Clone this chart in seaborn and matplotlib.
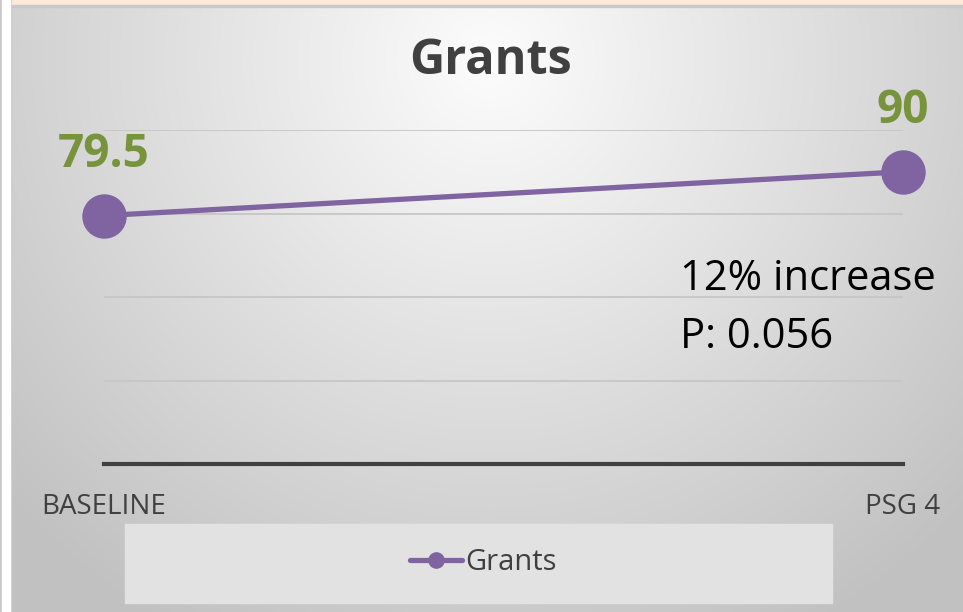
import numpy as np
import pandas as pd
import matplotlib.pyplot as plt
import seaborn as sns
from matplotlib.patches import Rectangle
from matplotlib.lines import Line2D

stages = ['BASELINE', 'PSG 4']
grants = [79.5, 90]
value_labels = ['79.5', '90']
note_lines = ['12% increase', 'P: 0.056']

df = pd.DataFrame({'stage': stages, 'grants': grants})

sns.set_theme(style='white')
plt.rcParams['font.family'] = ['Open Sans', 'DejaVu Sans']

fig = plt.figure(figsize=(9.63, 6.12), dpi=100)
W, H = 963, 612

# background: page strip + radial gray gradient of the chart area
bg = fig.add_axes([0, 0, 1, 1])
bg.set_xlim(0, W)
bg.set_ylim(H, 0)
bg.axis('off')
yy, xx = np.mgrid[0:H, 0:W]
r = np.sqrt(((xx - 490) / 620.0) ** 2 + ((yy - 60) / 620.0) ** 2)
shade = np.clip(0.99 - 0.22 * r, 0.76, 0.99)
bg.imshow(np.dstack([shade] * 3), extent=(0, W, H, 0), zorder=0)
bg.add_patch(Rectangle((0, 0), 11, H, color='#c8c8c8', zorder=1))
bg.add_patch(Rectangle((2, 0), 8, H, color='white', zorder=1))
bg.add_patch(Rectangle((12, 0), W - 12, 5, color='#fde9db', zorder=1))
bg.add_patch(Rectangle((12, 5), W - 12, 2, color='#c9c9c9', zorder=1))
# legend box
bg.add_patch(Rectangle((125, 524), 707, 79, color='#e2e2e2', zorder=1))

# plot area
x0, x1, ytop, ybot = 104, 903, 130, 464
ax = fig.add_axes([x0 / W, 1 - ybot / H, (x1 - x0) / W, (ybot - ytop) / H])
ax.patch.set_alpha(0)
sns.lineplot(data=df, x='stage', y='grants', ax=ax, color='#8064a2',
             linewidth=3.8, marker='o', markersize=32, markeredgewidth=0,
             clip_on=False, zorder=5)
ax.set_xlim(0, 1)
ax.set_ylim(20, 100)
ax.set_yticks([40, 60, 80, 100])
ax.yaxis.grid(True, color='#c6c6c6', linewidth=1.3)
ax.xaxis.grid(False)
for s in ['top', 'right', 'left']:
    ax.spines[s].set_visible(False)
ax.spines['bottom'].set_color('#404040')
ax.spines['bottom'].set_linewidth(3)
ax.set_yticklabels([])
ax.tick_params(axis='x', bottom=False, labelsize=20,
               labelcolor='#404040', pad=15)
ax.tick_params(axis='y', left=False)
ax.set_xlabel('')
ax.set_ylabel('')

for i, (v, t) in enumerate(zip(grants, value_labels)):
    ax.annotate(t, (i, v), xytext=(0, 27), textcoords='offset points',
                ha='center', va='bottom', fontsize=33, fontweight='bold',
                color='#77933c', zorder=6)

bg.text(491, 62, 'Grants', ha='center', va='center', fontsize=35,
        fontweight='bold', color='#404040', zorder=3)
bg.text(680, 279, note_lines[0], ha='left', va='center', fontsize=30,
        color='black', zorder=3)
bg.text(680, 337, note_lines[1], ha='left', va='center', fontsize=30,
        color='black', zorder=3)

# legend entry
handle = Line2D([], [], color='#8064a2', linewidth=3.8, marker='o',
                markersize=12, markeredgewidth=0)
fig.legend([handle], ['Grants'], loc='center', bbox_to_anchor=(483 / W, 1 - 563 / H),
           frameon=False, fontsize=21,
           handlelength=1.8, handletextpad=0.1, labelcolor='#404040')

fig.savefig('out.png', dpi=100)
